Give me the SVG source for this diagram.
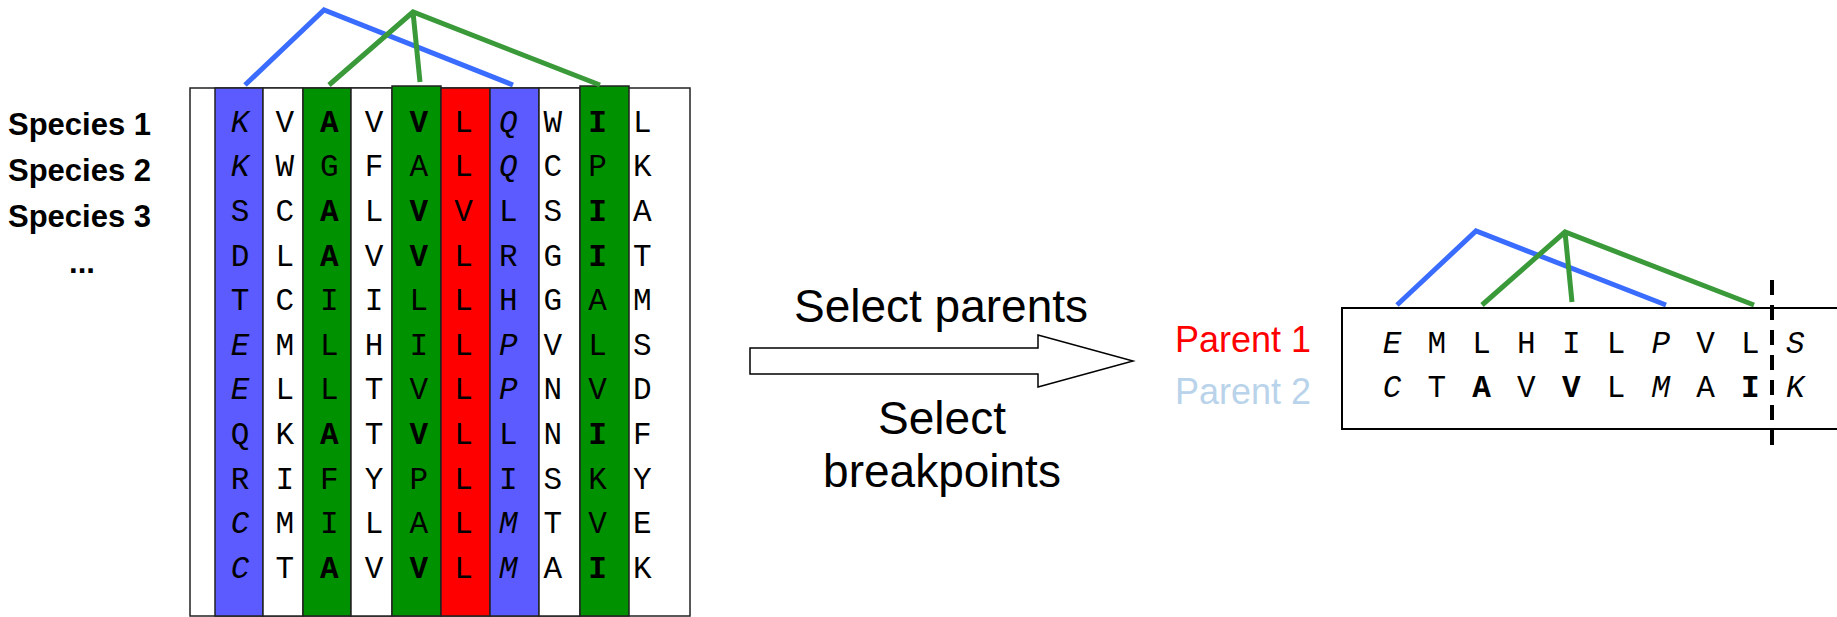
<svg xmlns="http://www.w3.org/2000/svg" width="1837" height="617" viewBox="0 0 1837 617">
<style>
.col{stroke:#222;stroke-width:1.5}
.aa{font-family:"Liberation Mono",monospace;font-size:31px;text-anchor:middle;fill:#000}
.i{font-style:italic}
.b{font-weight:bold}
.sp{font-family:"Liberation Sans",Arial,sans-serif;font-size:31px;font-weight:bold;fill:#000}
.lbl{font-family:"Liberation Sans",Arial,sans-serif;font-size:46px;text-anchor:middle;fill:#000}
.par{font-family:"Liberation Sans",Arial,sans-serif;font-size:36px}
.lb{fill:none;stroke:#3a6cff;stroke-width:5;stroke-linejoin:miter}
.lg{fill:none;stroke:#3a9a3a;stroke-width:5;stroke-linejoin:miter}
</style>
<rect width="1837" height="617" fill="#fff"/>
<g id="species-labels">
<text class="sp" x="8" y="135">Species 1</text>
<text class="sp" x="8" y="181">Species 2</text>
<text class="sp" x="8" y="227">Species 3</text>
<text class="sp" x="82" y="273" text-anchor="middle">...</text>
</g>
<g id="alignment">
<rect class="col" x="190" y="88" width="500" height="528" fill="#fff"/>
<rect class="col" x="215" y="88" width="48" height="528" fill="#5b5bff"/>
<rect class="col" x="263" y="88" width="40" height="528" fill="#fff"/>
<rect class="col" x="303" y="88" width="48" height="528" fill="#009100"/>
<rect class="col" x="351" y="88" width="41" height="528" fill="#fff"/>
<rect class="col" x="392" y="86" width="49" height="530" fill="#009100"/>
<rect class="col" x="441" y="88" width="49" height="528" fill="#ff0000"/>
<rect class="col" x="490" y="88" width="49" height="528" fill="#5b5bff"/>
<rect class="col" x="539" y="88" width="41" height="528" fill="#fff"/>
<rect class="col" x="580" y="86" width="49" height="530" fill="#009100"/>
<g class="aa">
<text x="240" y="131.5" class="i">K</text><text x="284.7" y="131.5">V</text><text x="329.4" y="131.5" class="b">A</text><text x="374.1" y="131.5">V</text><text x="418.8" y="131.5" class="b">V</text><text x="463.5" y="131.5">L</text><text x="508.2" y="131.5" class="i">Q</text><text x="552.9" y="131.5">W</text><text x="597.6" y="131.5" class="b">I</text><text x="642.3" y="131.5">L</text>
<text x="240" y="176.2" class="i">K</text><text x="284.7" y="176.2">W</text><text x="329.4" y="176.2">G</text><text x="374.1" y="176.2">F</text><text x="418.8" y="176.2">A</text><text x="463.5" y="176.2">L</text><text x="508.2" y="176.2" class="i">Q</text><text x="552.9" y="176.2">C</text><text x="597.6" y="176.2">P</text><text x="642.3" y="176.2">K</text>
<text x="240" y="220.8">S</text><text x="284.7" y="220.8">C</text><text x="329.4" y="220.8" class="b">A</text><text x="374.1" y="220.8">L</text><text x="418.8" y="220.8" class="b">V</text><text x="463.5" y="220.8">V</text><text x="508.2" y="220.8">L</text><text x="552.9" y="220.8">S</text><text x="597.6" y="220.8" class="b">I</text><text x="642.3" y="220.8">A</text>
<text x="240" y="265.5">D</text><text x="284.7" y="265.5">L</text><text x="329.4" y="265.5" class="b">A</text><text x="374.1" y="265.5">V</text><text x="418.8" y="265.5" class="b">V</text><text x="463.5" y="265.5">L</text><text x="508.2" y="265.5">R</text><text x="552.9" y="265.5">G</text><text x="597.6" y="265.5" class="b">I</text><text x="642.3" y="265.5">T</text>
<text x="240" y="310.1">T</text><text x="284.7" y="310.1">C</text><text x="329.4" y="310.1">I</text><text x="374.1" y="310.1">I</text><text x="418.8" y="310.1">L</text><text x="463.5" y="310.1">L</text><text x="508.2" y="310.1">H</text><text x="552.9" y="310.1">G</text><text x="597.6" y="310.1">A</text><text x="642.3" y="310.1">M</text>
<text x="240" y="354.8" class="i">E</text><text x="284.7" y="354.8">M</text><text x="329.4" y="354.8">L</text><text x="374.1" y="354.8">H</text><text x="418.8" y="354.8">I</text><text x="463.5" y="354.8">L</text><text x="508.2" y="354.8" class="i">P</text><text x="552.9" y="354.8">V</text><text x="597.6" y="354.8">L</text><text x="642.3" y="354.8">S</text>
<text x="240" y="399.4" class="i">E</text><text x="284.7" y="399.4">L</text><text x="329.4" y="399.4">L</text><text x="374.1" y="399.4">T</text><text x="418.8" y="399.4">V</text><text x="463.5" y="399.4">L</text><text x="508.2" y="399.4" class="i">P</text><text x="552.9" y="399.4">N</text><text x="597.6" y="399.4">V</text><text x="642.3" y="399.4">D</text>
<text x="240" y="444.1">Q</text><text x="284.7" y="444.1">K</text><text x="329.4" y="444.1" class="b">A</text><text x="374.1" y="444.1">T</text><text x="418.8" y="444.1" class="b">V</text><text x="463.5" y="444.1">L</text><text x="508.2" y="444.1">L</text><text x="552.9" y="444.1">N</text><text x="597.6" y="444.1" class="b">I</text><text x="642.3" y="444.1">F</text>
<text x="240" y="488.7">R</text><text x="284.7" y="488.7">I</text><text x="329.4" y="488.7">F</text><text x="374.1" y="488.7">Y</text><text x="418.8" y="488.7">P</text><text x="463.5" y="488.7">L</text><text x="508.2" y="488.7">I</text><text x="552.9" y="488.7">S</text><text x="597.6" y="488.7">K</text><text x="642.3" y="488.7">Y</text>
<text x="240" y="533.4" class="i">C</text><text x="284.7" y="533.4">M</text><text x="329.4" y="533.4">I</text><text x="374.1" y="533.4">L</text><text x="418.8" y="533.4">A</text><text x="463.5" y="533.4">L</text><text x="508.2" y="533.4" class="i">M</text><text x="552.9" y="533.4">T</text><text x="597.6" y="533.4">V</text><text x="642.3" y="533.4">E</text>
<text x="240" y="578" class="i">C</text><text x="284.7" y="578">T</text><text x="329.4" y="578" class="b">A</text><text x="374.1" y="578">V</text><text x="418.8" y="578" class="b">V</text><text x="463.5" y="578">L</text><text x="508.2" y="578" class="i">M</text><text x="552.9" y="578">A</text><text x="597.6" y="578" class="b">I</text><text x="642.3" y="578">K</text>
</g>
</g>
<g id="connectors">
<polyline class="lb" points="245,85 324,10 513,85"/>
<polyline class="lg" points="329,85 413,12 600,85"/>
<line class="lg" x1="413" y1="12" x2="420" y2="82"/>
<polyline class="lb" points="1397,305 1476,231 1666,305"/>
<polyline class="lg" points="1482,305 1565,232 1754,305"/>
<line class="lg" x1="1565" y1="232" x2="1572" y2="302"/>
<line x1="1772" y1="280" x2="1772" y2="452" stroke="#000" stroke-width="4" stroke-dasharray="15 10"/>
</g>
<g id="arrow">
<polygon points="750,348 1038,348 1038,335 1133,361 1038,387 1038,374 750,374" fill="#fff" stroke="#000" stroke-width="1.5"/>
<text class="lbl" x="941" y="322">Select parents</text>
<text class="lbl" x="942" y="434">Select</text>
<text class="lbl" x="942" y="487">breakpoints</text>
</g>
<g id="parents">
<text class="par" x="1175" y="352" fill="#ff0000">Parent 1</text>
<text class="par" x="1175" y="404" fill="#b9d3ea">Parent 2</text>
<rect x="1342" y="308" width="500" height="121" fill="none" stroke="#000" stroke-width="2"/>
<g class="aa">
<text x="1392" y="352.7" class="i">E</text><text x="1436.8" y="352.7">M</text><text x="1481.6" y="352.7">L</text><text x="1526.4" y="352.7">H</text><text x="1571.2" y="352.7">I</text><text x="1616" y="352.7">L</text><text x="1660.8" y="352.7" class="i">P</text><text x="1705.6" y="352.7">V</text><text x="1750.4" y="352.7">L</text><text x="1795.2" y="352.7" class="i">S</text>
<text x="1392" y="397.3" class="i">C</text><text x="1436.8" y="397.3">T</text><text x="1481.6" y="397.3" class="b">A</text><text x="1526.4" y="397.3">V</text><text x="1571.2" y="397.3" class="b">V</text><text x="1616" y="397.3">L</text><text x="1660.8" y="397.3" class="i">M</text><text x="1705.6" y="397.3">A</text><text x="1750.4" y="397.3" class="b">I</text><text x="1795.2" y="397.3" class="i">K</text>
</g>
</g>
</svg>
